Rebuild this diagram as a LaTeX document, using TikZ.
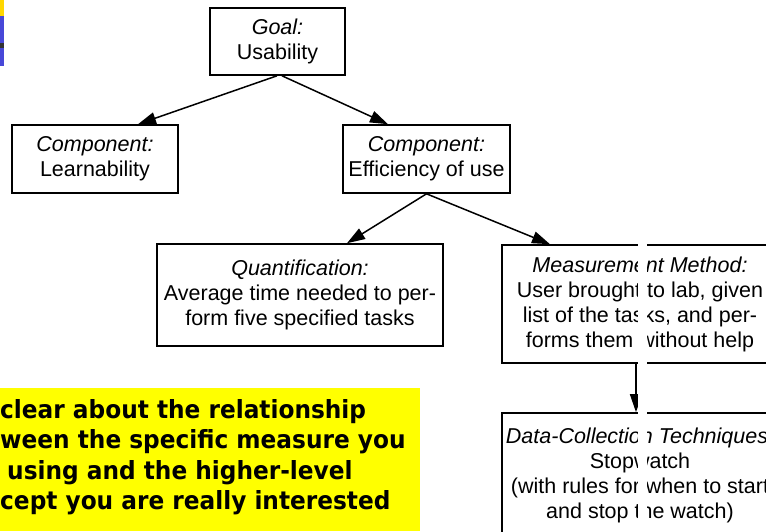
\documentclass[tikz,border=0pt]{standalone}
\usepackage{fontspec}
\setmainfont{Liberation Sans}
\newfontfamily\slidefont[FakeStretch=0.93]{DejaVu Sans}
\usetikzlibrary{arrows.meta}
\definecolor{notefill}{RGB}{255,255,0}
\definecolor{bargold}{RGB}{255,215,0}
\definecolor{barblue}{RGB}{72,72,216}
\definecolor{bargray}{RGB}{51,51,51}
\begin{document}
\begin{tikzpicture}[x=1pt,y=-1pt,
  box/.style={draw=black, line width=1.6pt, align=center, inner sep=0pt,
    font=\fontsize{21.5}{25}\selectfont},
  arr/.style={-{Triangle[length=18pt,width=12pt]}, line width=1.5pt},
  notetext/.style={anchor=north west, inner sep=0pt, align=left,
    font=\slidefont\bfseries\fontsize{25}{30.5}\selectfont}]
\useasboundingbox (0,0) rectangle (766,531);
\clip (0,0) rectangle (766,531);
% slide decoration bar
\fill[bargold] (0,0) rectangle (4,16);
\fill[barblue] (0,16) rectangle (4,66);
\fill[bargray] (0,43) rectangle (4,48);
% boxes
\node[box, minimum width=135pt, minimum height=67pt] (goal) at (277.5,41.5)
  {\textit{Goal:}\\Usability};
\node[box, minimum width=166pt, minimum height=68pt] (learn) at (95,159)
  {\textit{Component:}\\Learnability};
\node[box, minimum width=167pt, minimum height=68pt] (eff) at (426.5,159)
  {\textit{Component:}\\Efficiency of use};
\node[box, minimum width=286pt, minimum height=102pt] (quant) at (300,295)
  {\textit{Quantification:}\\Average time needed to per-\\form five specified tasks};
\node[box, minimum width=276pt, minimum height=118pt] (meas) at (640,304)
  {\textit{Measurement Method:}\\User brought to lab, given\\list of the tasks, and per-\\forms them without help};
\node[box, minimum width=276pt, minimum height=124pt] (data) at (640,475)
  {\textit{Data-Collection Techniques:}\\Stopwatch\\(with rules for when to start\\and stop the watch)};
% connectors
\draw[arr] ([xshift=-0.5pt]goal.south) -- ([xshift=43pt]learn.north);
\draw[arr] ([xshift=4.5pt]goal.south) -- ([xshift=-38.5pt]eff.north);
\draw[arr] (eff.south) -- ([xshift=47pt]quant.north);
\draw[arr] (eff.south) -- ([xshift=-90pt]meas.north);
\draw[arr] ([xshift=-4pt]meas.south) -- ([xshift=-4pt]data.north);
% scan gap
\fill[white] (638,225) rectangle (647,531);
% yellow note
\fill[notefill] (0,388) rectangle (420,531);
\node[notetext] (note) at (0,399)
  {clear about the relationship\\ween the specific measure you\\\hspace*{7pt}using and the higher-level\\cept you are really interested};
\end{tikzpicture}
\end{document}
